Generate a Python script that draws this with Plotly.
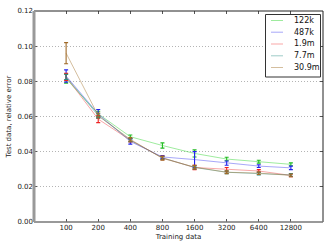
import plotly.graph_objects as go

train_labels = ["100", "200", "400", "800", "1600", "3200", "6400", "12800"]
x_pos = [1, 2, 3, 4, 5, 6, 7, 8]
series_names = ["122k", "487k", "1.9m", "7.7m", "30.9m"]

err_122k = [0.0815, 0.0615, 0.0485, 0.0435, 0.0390, 0.0358, 0.0343, 0.0328]
sd_122k = [0.0025, 0.0015, 0.0010, 0.0015, 0.0020, 0.0010, 0.0008, 0.0008]
err_487k = [0.0830, 0.0615, 0.0458, 0.0370, 0.0355, 0.0335, 0.0318, 0.0308]
sd_487k = [0.0035, 0.0025, 0.0015, 0.0008, 0.0045, 0.0012, 0.0008, 0.0010]
err_1_9m = [0.0825, 0.0585, 0.0465, 0.0365, 0.0310, 0.0298, 0.0290, 0.0265]
sd_1_9m = [0.0020, 0.0020, 0.0010, 0.0010, 0.0012, 0.0012, 0.0008, 0.0008]
err_7_7m = [0.0825, 0.0605, 0.0465, 0.0365, 0.0310, 0.0283, 0.0275, 0.0268]
sd_7_7m = [0.0015, 0.0010, 0.0008, 0.0008, 0.0008, 0.0008, 0.0008, 0.0008]
err_30_9m = [0.0960, 0.0605, 0.0470, 0.0362, 0.0312, 0.0283, 0.0278, 0.0265]
sd_30_9m = [0.0060, 0.0015, 0.0010, 0.0010, 0.0010, 0.0008, 0.0008, 0.0008]

values = [err_122k, err_487k, err_1_9m, err_7_7m, err_30_9m]
sds = [sd_122k, sd_487k, sd_1_9m, sd_7_7m, sd_30_9m]
line_colors = ["rgba(40,210,40,0.45)", "rgba(60,60,240,0.45)", "rgba(240,60,60,0.45)",
               "rgba(40,140,130,0.45)", "rgba(160,110,40,0.45)"]
bar_colors = ["#22bb22", "#2222ee", "#ee2222", "#2a8a80", "#a06a28"]

fig = go.Figure()
for name, v, s, lc, bc in zip(series_names, values, sds, line_colors, bar_colors):
    fig.add_trace(go.Scatter(
        x=x_pos, y=v, name=name, mode="lines", showlegend=False,
        line=dict(color=lc, width=1),
        error_y=dict(type="data", array=s, visible=True, color=bc, thickness=1.1, width=2),
    ))

L, R, T, B = 34, 9, 11, 27
W, H = 332, 249
pw, ph = W - L - R, H - T - B

def px(x):
    return (x - L) / pw

def py(y):
    return (H - B - y) / ph

axis_font = dict(family="DejaVu Sans", size=7, color="#222")
fig.update_layout(
    width=W, height=H,
    margin=dict(l=L, r=R, t=T, b=B),
    paper_bgcolor="white", plot_bgcolor="white",
    font=dict(family="DejaVu Sans", size=7, color="#222"),
    showlegend=False,
    xaxis=dict(range=[0, 9], tickmode="array", tickvals=x_pos, ticktext=train_labels,
               ticks="inside", ticklen=3, tickcolor="#555", mirror="ticks",
               showgrid=False, zeroline=False, showline=False, automargin=False,
               tickfont=axis_font,
               title=dict(text="Training data", font=dict(family="DejaVu Sans", size=7), standoff=3)),
    yaxis=dict(range=[0, 0.12], dtick=0.02, tickformat=".2f",
               ticks="inside", ticklen=3, tickcolor="#555", mirror="ticks",
               showgrid=True, gridcolor="#b4b4b4", griddash="1px,2px", gridwidth=1,
               zeroline=False, showline=False, tickfont=axis_font, automargin=False,
               title=dict(text="Test data, relative error", font=dict(family="DejaVu Sans", size=7), standoff=4)),
)
# spines
fig.add_shape(type="line", xref="paper", yref="paper", x0=0, x1=1, y0=1, y1=1,
              line=dict(color="#222", width=1))
fig.add_shape(type="line", xref="paper", yref="paper", x0=1, x1=1, y0=0, y1=1,
              line=dict(color="#222", width=1))
fig.add_shape(type="line", xref="paper", yref="paper", x0=0, x1=1, y0=0, y1=0,
              line=dict(color="#777", width=1.5))
fig.add_shape(type="line", xref="paper", yref="paper", x0=0, x1=0, y0=0, y1=1,
              line=dict(color="#999", width=3))

# legend box
fig.add_shape(type="rect", xref="paper", yref="paper",
              x0=px(265.5), x1=px(320.5), y0=py(77), y1=py(14.5),
              line=dict(color="#333", width=1), fillcolor="white")
legend_rows = [20.5, 32.2, 44.0, 55.8, 67.5]
for name, lc, yy in zip(series_names, line_colors, legend_rows):
    fig.add_shape(type="line", xref="paper", yref="paper",
                  x0=px(271), x1=px(283), y0=py(yy), y1=py(yy),
                  line=dict(color=lc, width=1))
    fig.add_annotation(xref="paper", yref="paper", x=px(292), y=py(yy),
                       text=name, showarrow=False, xanchor="left", yanchor="middle",
                       font=dict(family="DejaVu Sans", size=8, color="#111"))

fig.write_html("out.html", config={"displayModeBar": False},
               post_script="document.body.style.margin='0';document.body.style.overflow='hidden';")
